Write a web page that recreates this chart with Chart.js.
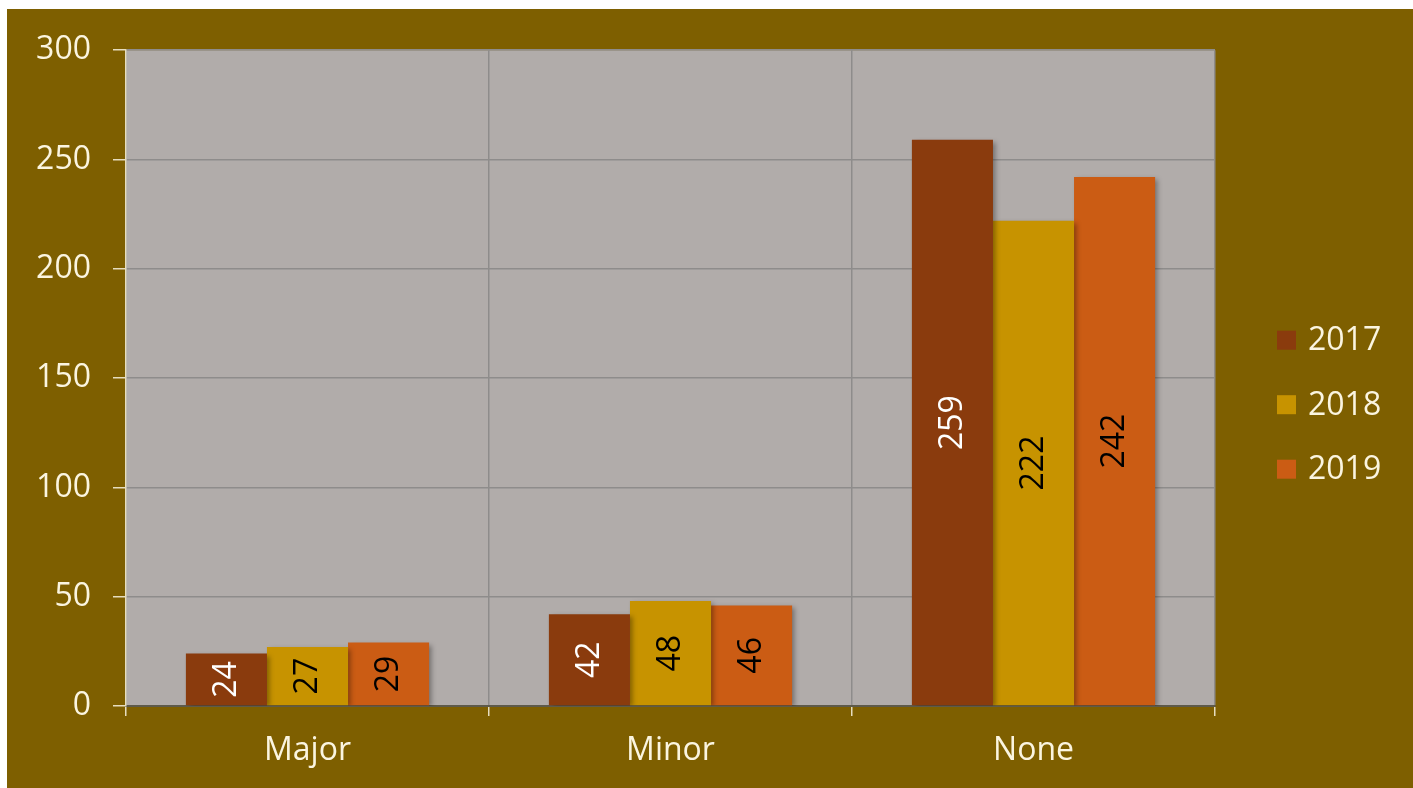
<!DOCTYPE html>
<html>
<head>
<meta charset="utf-8">
<script src="https://cdn.jsdelivr.net/npm/chart.js@4.4.1/dist/chart.umd.min.js"></script>
<style>
  html, body { margin: 0; padding: 0; background: #7E5F00; overflow: hidden; width: 1413px; height: 788px; }
  #topband { position: absolute; left: 0; top: 0; width: 1413px; height: 9px; background: #ffffff; }
  #leftband { position: absolute; left: 0; top: 0; width: 7px; height: 788px; background: #ffffff; }
  #wrap { position: absolute; left: 7px; top: 9px; width: 1406px; height: 779px; background: #7E5F00; }
  canvas { display: block; }
</style>
</head>
<body>
<div id="topband"></div>
<div id="leftband"></div>
<div id="wrap"><canvas id="c" width="1406" height="779"></canvas></div>
<script>
const categories = ['Major', 'Minor', 'None'];
const seriesNames = ['2017', '2018', '2019'];
const values2017 = [24, 42, 259];
const values2018 = [27, 48, 222];
const values2019 = [29, 46, 242];
const seriesColors = ['#8A3B0D', '#C79300', '#CB5C14'];
const labelColors = ['#FFFFFF', '#000000', '#000000'];
const yTicks = [0, 50, 100, 150, 200, 250, 300];

const FONT = '"Open Sans", "DejaVu Sans", sans-serif';
const TEXT = '#FBF5E0';
const FSIZE = 32;

const plotBg = {
  id: 'plotBg',
  beforeDraw(chart) {
    const { ctx, chartArea: a } = chart;
    ctx.save();
    ctx.fillStyle = '#B1ACAA';
    ctx.fillRect(a.left, a.top, a.right - a.left, a.bottom - a.top);
    ctx.restore();
  }
};

const barShadow = {
  id: 'barShadow',
  beforeDatasetsDraw(chart) {
    const ctx = chart.ctx;
    ctx.save();
    ctx.shadowColor = 'rgba(0,0,0,0.35)';
    ctx.shadowBlur = 5;
    ctx.shadowOffsetX = 3;
    ctx.shadowOffsetY = 2;
  },
  afterDatasetsDraw(chart) {
    chart.ctx.restore();
  }
};

const valueLabels = {
  id: 'valueLabels',
  afterDatasetsDraw(chart) {
    const ctx = chart.ctx;
    chart.data.datasets.forEach((ds, di) => {
      const meta = chart.getDatasetMeta(di);
      meta.data.forEach((bar, i) => {
        const x = bar.x;
        const y = (bar.y + bar.base) / 2;
        ctx.save();
        ctx.translate(x, y);
        ctx.rotate(-Math.PI / 2);
        ctx.font = FSIZE + 'px ' + FONT;
        ctx.fillStyle = labelColors[di];
        ctx.textAlign = 'center';
        ctx.textBaseline = 'middle';
        ctx.fillText(String(ds.data[i]), 0, 0);
        ctx.restore();
      });
    });
  }
};

const sideLegend = {
  id: 'sideLegend',
  afterDraw(chart) {
    const ctx = chart.ctx;
    const a = chart.chartArea;
    const x0 = a.right + 62;
    ctx.save();
    chart.data.datasets.forEach((ds, i) => {
      const yc = a.top + 290 + i * 64.5;
      ctx.fillStyle = ds.backgroundColor;
      ctx.fillRect(x0, yc - 9.5, 19, 19);
      ctx.font = FSIZE + 'px ' + FONT;
      ctx.fillStyle = TEXT;
      ctx.textAlign = 'left';
      ctx.textBaseline = 'middle';
      ctx.fillText(ds.label, x0 + 31, yc + 1);
    });
    ctx.restore();
  }
};

new Chart(document.getElementById('c'), {
  type: 'bar',
  data: {
    labels: categories,
    datasets: [
      { label: seriesNames[0], data: values2017, backgroundColor: seriesColors[0] },
      { label: seriesNames[1], data: values2018, backgroundColor: seriesColors[1] },
      { label: seriesNames[2], data: values2019, backgroundColor: seriesColors[2] }
    ]
  },
  options: {
    responsive: false,
    animation: false,
    devicePixelRatio: 1,
    layout: { padding: { left: 0, top: 39, right: 198, bottom: 0 } },
    datasets: { bar: { categoryPercentage: 0.67, barPercentage: 1.0, borderWidth: 0 } },
    plugins: {
      legend: { display: false },
      tooltip: { enabled: false }
    },
    scales: {
      x: {
        grid: { display: true, offset: true, color: '#8E8C8B', lineWidth: 1.5, tickLength: 10, tickColor: '#E6DDBF', drawOnChartArea: true },
        border: { display: true, color: '#5E5A4A', width: 2 },
        ticks: { color: TEXT, font: { family: FONT, size: FSIZE }, padding: 16 },
        afterFit(scale) { scale.height = 82; }
      },
      y: {
        min: 0,
        max: 300,
        afterBuildTicks(scale) { scale.ticks = yTicks.map(v => ({ value: v })); },
        grid: { color: '#8E8C8B', lineWidth: 1.5, tickLength: 13, tickColor: '#E6DDBF' },
        border: { display: true, color: '#E6DDBF', width: 1.5 },
        ticks: { color: TEXT, font: { family: FONT, size: FSIZE }, padding: 22 },
        afterFit(scale) { scale.width = 119; }
      }
    }
  },
  plugins: [plotBg, barShadow, valueLabels, sideLegend]
});
</script>
</body>
</html>
